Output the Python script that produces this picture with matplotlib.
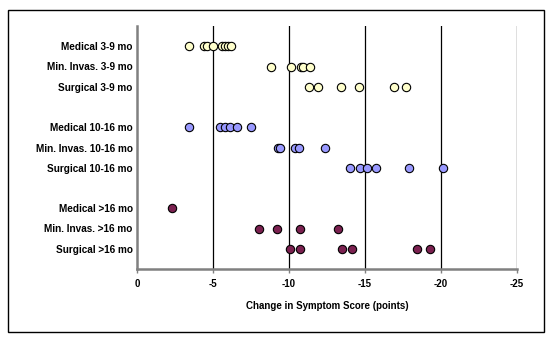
import numpy as np
import matplotlib.pyplot as plt
from matplotlib.patches import Rectangle

plt.rcParams['font.family'] = ['Liberation Sans', 'DejaVu Sans']

# group labels, top to bottom (blank slots separate the follow-up periods)
labels = ['Medical 3-9 mo', 'Min. Invas. 3-9 mo', 'Surgical 3-9 mo',
          'Medical 10-16 mo', 'Min. Invas. 10-16 mo', 'Surgical 10-16 mo',
          'Medical >16 mo', 'Min. Invas. >16 mo', 'Surgical >16 mo']
rows = [1, 2, 3, 5, 6, 7, 9, 10, 11]

# change in symptom score for each study
med_3_9 = [-3.4, -4.4, -4.6, -5.0, -5.6, -5.8, -6.0, -6.2]
mi_3_9 = [-8.8, -10.1, -10.8, -10.95, -11.4]
surg_3_9 = [-11.3, -11.9, -13.4, -14.6, -16.9, -17.7]
med_10_16 = [-3.4, -5.45, -5.8, -6.15, -6.55, -7.5]
mi_10_16 = [-9.25, -9.4, -10.4, -10.65, -12.4]
surg_10_16 = [-14.0, -14.7, -15.15, -15.7, -17.9, -20.1]
med_16 = [-2.3]
mi_16 = [-8.0, -9.2, -10.7, -13.2]
surg_16 = [-10.05, -10.75, -13.5, -14.15, -18.4, -19.3]

groups = [med_3_9, mi_3_9, surg_3_9, med_10_16, mi_10_16, surg_10_16,
          med_16, mi_16, surg_16]
colors = ['#FFFFCC'] * 3 + ['#9999FF'] * 3 + ['#7B2150'] * 3

xticks = [0, -5, -10, -15, -20, -25]

fig = plt.figure(figsize=(5.57, 3.42), dpi=100)
ax = fig.add_axes([137 / 557, 1 - 269 / 342, 380 / 557, 243 / 342])

for vals, row, col in zip(groups, rows, colors):
    ax.scatter(vals, [row] * len(vals), s=36, color=col,
               edgecolor='black', linewidth=0.8, zorder=3, clip_on=False)

ax.set_xlim(0, -25)
ax.set_ylim(12, 0)
ax.set_xticks(xticks)
ax.set_xticklabels([str(t) for t in xticks], fontsize=7, fontweight='bold')
ax.set_yticks(rows)
ax.set_yticklabels(labels, fontsize=7.2, fontweight='bold')
ax.tick_params(axis='y', length=0, pad=3)
ax.tick_params(axis='x', length=3, width=1, color='#808080', pad=4)

for t in xticks[1:]:
    ax.axvline(t, color='black', linewidth=0.9, zorder=1)

for side in ['top', 'right']:
    ax.spines[side].set_visible(False)
for side in ['left', 'bottom']:
    ax.spines[side].set_color('#808080')
    ax.spines[side].set_linewidth(1.8)

ax.set_xlabel('Change in Symptom Score (points)', fontsize=7,
              fontweight='bold', labelpad=9)

# outer chart border
fig.patches.append(Rectangle((8 / 557, 1 - 332 / 342), 536 / 557, 322 / 342,
                             transform=fig.transFigure, fill=False,
                             edgecolor='black', linewidth=1))

fig.savefig('out.png', dpi=100)
